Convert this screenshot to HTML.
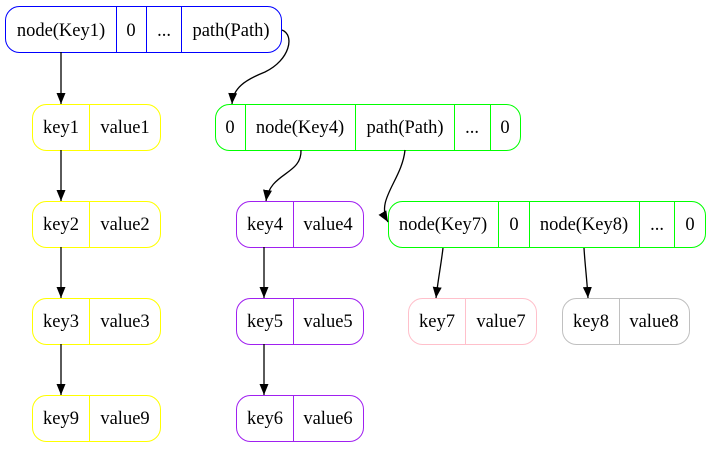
<!DOCTYPE html>
<html><head><style>body{margin:0;background:#fff}svg{display:block}text{font-family:"Liberation Serif",serif;font-size:18.5px;fill:#000;text-anchor:middle}</style></head><body>
<svg width="711" height="449" viewBox="0 0 711 449">
<defs><marker id="a" markerWidth="12" markerHeight="12" refX="11" refY="5" orient="auto" markerUnits="userSpaceOnUse"><path d="M0,0.5 L11,5 L0,9.5 Z" fill="#000"/></marker></defs>
<g fill="none" stroke-width="1">
<rect x="5.5" y="6.5" width="276" height="46" rx="14" stroke="#0000ff"/>
<path d="M116.5 6.5V52.5M146.5 6.5V52.5M181.5 6.5V52.5" stroke="#0000ff"/>
<g stroke="#ffff00">
<rect x="32.5" y="104.5" width="128" height="46" rx="14"/><path d="M89.5 104.5V150.5"/>
<rect x="32.5" y="201.5" width="128" height="46" rx="14"/><path d="M89.5 201.5V247.5"/>
<rect x="32.5" y="298.5" width="128" height="46" rx="14"/><path d="M89.5 298.5V344.5"/>
<rect x="32.5" y="395.5" width="128" height="46" rx="14"/><path d="M89.5 395.5V441.5"/>
</g>
<g stroke="#00ff00">
<rect x="215.5" y="104.5" width="305" height="46" rx="14"/><path d="M245.5 104.5V150.5M355.5 104.5V150.5M454.5 104.5V150.5M490.5 104.5V150.5"/>
<rect x="388.5" y="201.5" width="317" height="46" rx="14"/><path d="M498.5 201.5V247.5M529.5 201.5V247.5M639.5 201.5V247.5M674.5 201.5V247.5"/>
</g>
<g stroke="#a020f0">
<rect x="236.5" y="201.5" width="127" height="46" rx="14"/><path d="M293.5 201.5V247.5"/>
<rect x="236.5" y="298.5" width="127" height="46" rx="14"/><path d="M293.5 298.5V344.5"/>
<rect x="236.5" y="395.5" width="127" height="46" rx="14"/><path d="M293.5 395.5V441.5"/>
</g>
<rect x="408.5" y="298.5" width="128" height="46" rx="14" stroke="#ffc0cb"/><path d="M465.5 298.5V344.5" stroke="#ffc0cb"/>
<rect x="562.5" y="298.5" width="127" height="46" rx="14" stroke="#c0c0c0"/><path d="M619.5 298.5V344.5" stroke="#c0c0c0"/>
</g>
<g fill="none" stroke="#000" stroke-width="1.3" marker-end="url(#a)">
<path d="M61 52V104"/>
<path d="M61 150V201"/>
<path d="M61 247V298"/>
<path d="M61 344V395"/>
<path d="M264 247V298"/>
<path d="M264 344V395"/>
<path d="M282 30C295 35 290 60 265 72C245 80 233 88 232 104"/>
<path d="M301 150C302 175 270 172 266 201"/>
<path d="M405 150C402 180 375 200 388 222"/>
<path d="M443 248C441 265 438 280 436 298"/>
<path d="M584 248C585 265 587 280 588 298"/>
</g>
<g>
<text x="61" y="36">node(Key1)</text><text x="131" y="36">0</text><text x="164" y="36">...</text><text x="231" y="36">path(Path)</text>
<text x="61" y="133">key1</text><text x="125" y="133">value1</text>
<text x="61" y="230">key2</text><text x="125" y="230">value2</text>
<text x="61" y="327">key3</text><text x="125" y="327">value3</text>
<text x="61" y="424">key9</text><text x="125" y="424">value9</text>
<text x="230" y="133">0</text><text x="300" y="133">node(Key4)</text><text x="405" y="133">path(Path)</text><text x="472" y="133">...</text><text x="505" y="133">0</text>
<text x="265" y="230">key4</text><text x="328" y="230">value4</text>
<text x="265" y="327">key5</text><text x="328" y="327">value5</text>
<text x="265" y="424">key6</text><text x="328" y="424">value6</text>
<text x="443" y="230">node(Key7)</text><text x="514" y="230">0</text><text x="584" y="230">node(Key8)</text><text x="657" y="230">...</text><text x="690" y="230">0</text>
<text x="437" y="327">key7</text><text x="501" y="327">value7</text>
<text x="591" y="327">key8</text><text x="654" y="327">value8</text>
</g>
</svg>
</body></html>
